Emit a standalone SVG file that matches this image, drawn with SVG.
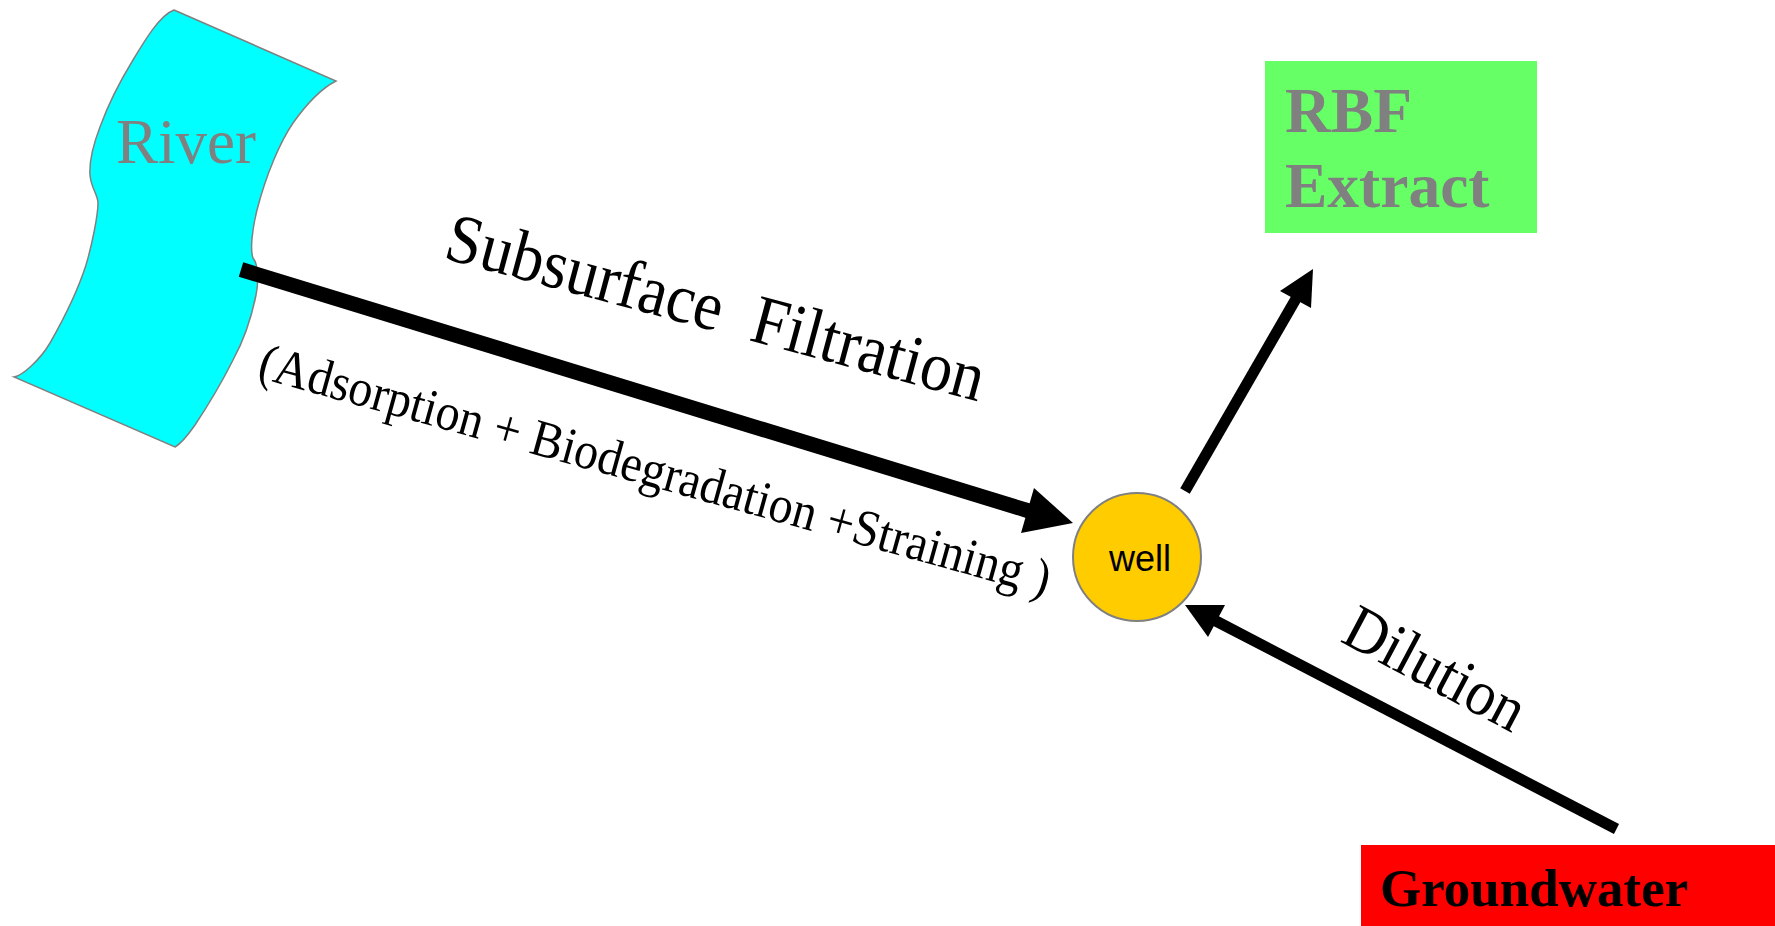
<svg xmlns="http://www.w3.org/2000/svg" width="1775" height="926" viewBox="0 0 1775 926">
  <style>
    .serif { font-family: "Liberation Serif", "Times New Roman", serif; }
    .sans { font-family: "Liberation Sans", Arial, sans-serif; }
    .label { fill: #000000; white-space: pre; }
    .flow { stroke: #000000; fill: none; stroke-linecap: butt; }
    .head { fill: #000000; stroke: none; }
  </style>
  <rect width="1775" height="926" fill="#ffffff"/>

  <!-- river ribbon -->
  <g id="river">
    <path d="M174,10 L336,81 C322,88 308,102 293,123 C280,142 266,175 257,210 C252,230 250,250 253,258 C258,264 259,280 256,295 C252,315 244,340 233,360 C222,382 205,410 195,425 C188,435 182,443 175,447 L14,377 C22,376 40,360 50,343 C62,322 78,290 86,265 C92,245 98,215 98,203 C98,195 91,188 90,175 C89,160 95,140 100,127 C108,105 122,78 133,60 C145,40 160,15 174,10 Z" fill="#00FFFF" stroke="#808080" stroke-width="1.5"/>
    <text class="serif" x="116" y="163" font-size="63" fill="#808080">River</text>
  </g>

  <!-- extraction target -->
  <g id="rbf-extract">
    <rect x="1265" y="61" width="272" height="172" fill="#66FF66"/>
    <text class="serif" x="1285" y="132" font-size="63.5" font-weight="bold" fill="#808080">RBF</text>
    <text class="serif" x="1285" y="207" font-size="63.5" font-weight="bold" fill="#808080">Extract</text>
  </g>

  <!-- pumping well -->
  <g id="well">
    <circle cx="1137" cy="557" r="64" fill="#FFCC00" stroke="#808080" stroke-width="2"/>
    <text class="sans" x="1140" y="571" font-size="36" text-anchor="middle" fill="#000000">well</text>
  </g>

  <!-- groundwater source -->
  <g id="groundwater">
    <rect x="1361" y="845" width="414" height="81" fill="#FF0000"/>
    <text class="serif" x="1380" y="906" font-size="53" font-weight="bold" fill="#000000">Groundwater</text>
  </g>

  <!-- flows between nodes -->
  <g id="connectors">
    <line class="flow" x1="241" y1="269.5" x2="1029" y2="511" stroke-width="15"/>
    <polygon class="head" points="1073,523 1034,488 1021,533"/>

    <line class="flow" x1="1185" y1="491" x2="1297" y2="297" stroke-width="11"/>
    <polygon class="head" points="1313,269 1280,291 1311,308"/>

    <line class="flow" x1="1616.5" y1="829" x2="1214" y2="620" stroke-width="11"/>
    <polygon class="head" points="1185,605 1225,605 1208,637"/>
  </g>

  <!-- flow labels, set in a slightly condensed face -->
  <g id="labels">
    <text class="serif label" font-size="70" transform="translate(442 258) rotate(15) scale(0.915 1)">Subsurface  Filtration</text>
    <text class="serif label" font-size="52" transform="translate(256 377) rotate(15.5) scale(0.92 1)">(Adsorption + Biodegradation +Straining )</text>
    <text class="serif label" font-size="64" transform="translate(1339 641) rotate(28) scale(0.92 1)">Dilution</text>
  </g>
</svg>
